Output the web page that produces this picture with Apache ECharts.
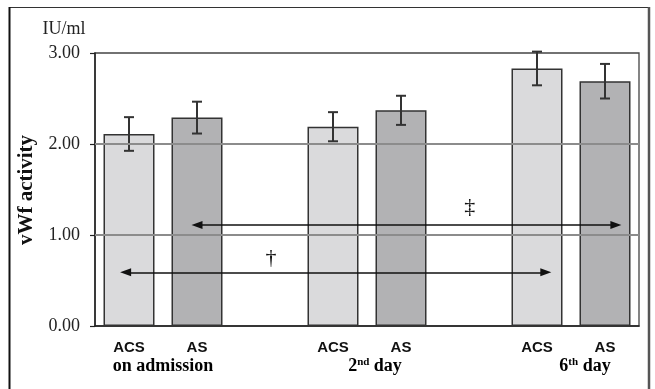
<!DOCTYPE html>
<html>
<head>
<meta charset="utf-8">
<script src="https://cdn.jsdelivr.net/npm/echarts@6/dist/echarts.min.js"></script>
<style>
html,body{margin:0;padding:0;background:#fff;}
#chart{width:655px;height:389px;}
</style>
</head>
<body>
<div id="chart"></div>
<script>
// ---- data ----
var categories = ['ACS', 'AS', '', 'ACS', 'AS', '', 'ACS', 'AS'];
var groups = ['ACS', 'AS', null, 'ACS', 'AS', null, 'ACS', 'AS'];
var values = [2.11, 2.29, null, 2.19, 2.37, null, 2.83, 2.69];
var errors = [0.185, 0.175, null, 0.16, 0.16, null, 0.185, 0.19];
var groupLabels = ['on admission', '2nd day', '6th day'];
var gridLines = [1, 2];
// arrows: [x from (category position), x to, y value]
var arrows = [
  [-0.05, 6.13, 0.59],
  [1.0, 7.16, 1.11]
];
var marks = [
  ['\u2020', 2.09, 0.75],
  ['\u2021', 5.01, 1.30]
];

var colorMap = { ACS: '#dadadc', AS: '#b2b2b4' };
var serif = '"Liberation Serif","Times New Roman",serif';
var sans = '"Liberation Sans",Arial,sans-serif';

var chart = echarts.init(document.getElementById('chart'));

var barData = values.map(function (v, i) {
  return { value: v == null ? '-' : v, itemStyle: { color: groups[i] ? colorMap[groups[i]] : '#fff' } };
});
var errData = [];
values.forEach(function (v, i) {
  if (v != null) errData.push([i, v - errors[i], v + errors[i]]);
});
var arrowHead = [8, 11];

var option = {
  animation: false,
  backgroundColor: '#fff',
  grid: {
    left: 95, right: 16, top: 53, bottom: 63,
    show: true, borderColor: '#444', borderWidth: 1.3, backgroundColor: 'transparent'
  },
  xAxis: [{
    type: 'category',
    data: categories,
    axisLine: { show: true, onZero: false, lineStyle: { color: '#222', width: 1.5 } },
    axisTick: { show: false },
    splitLine: { show: false },
    axisLabel: { interval: 0, margin: 14, fontFamily: sans, fontWeight: 'bold', fontSize: 15, color: '#111' }
  }, {
    type: 'value', min: -0.5, max: 7.5, show: false,
    axisLine: { onZero: false }, splitLine: { show: false }
  }],
  yAxis: {
    type: 'value', min: 0, max: 3, interval: 1,
    axisLine: { show: true, onZero: false, lineStyle: { color: '#222', width: 1.5 } },
    axisTick: { show: true, length: 5, lineStyle: { color: '#222', width: 1.2 } },
    axisLabel: { margin: 15, fontFamily: serif, fontSize: 18, color: '#222',
      formatter: function (v) { return v.toFixed(2); } },
    splitLine: { show: false }
  },
  series: [{
    type: 'bar',
    data: barData,
    barCategoryGap: '25%',
    itemStyle: { borderColor: '#333', borderWidth: 1.5 },
    markLine: {
      silent: true, symbol: 'none', animation: false,
      label: { show: false },
      lineStyle: { color: '#8c8c8c', width: 2, type: 'solid' },
      data: gridLines.map(function (g) { return { yAxis: g }; })
    },
    z: 2
  }, {
    type: 'custom',
    data: errData,
    encode: { x: 0, y: [1, 2] },
    clip: false,
    z: 3,
    renderItem: function (params, api) {
      var x = api.coord([api.value(0), api.value(1)])[0];
      var lo = api.coord([api.value(0), api.value(1)])[1];
      var hi = api.coord([api.value(0), api.value(2)])[1];
      var c = 5;
      var st = { stroke: '#333', lineWidth: 2, fill: null };
      return { type: 'group', children: [
        { type: 'polyline', shape: { points: [[x, lo], [x, hi]] }, style: st },
        { type: 'polyline', shape: { points: [[x - c, lo], [x + c, lo]] }, style: st },
        { type: 'polyline', shape: { points: [[x - c, hi], [x + c, hi]] }, style: st }
      ]};
    }
  }, {
    type: 'line',
    xAxisIndex: 1,
    data: [],
    z: 4,
    markLine: {
      silent: true, animation: false,
      symbol: ['triangle', 'triangle'], symbolSize: 10,
      label: { show: false },
      lineStyle: { color: '#111', width: 1.5, type: 'solid' },
      itemStyle: { color: '#111' },
      data: arrows.map(function (a) {
        return [
          { coord: [a[0], a[2]], symbolSize: arrowHead },
          { coord: [a[1], a[2]], symbolSize: arrowHead }
        ];
      })
    },
    markPoint: {
      silent: true, animation: false,
      symbol: 'circle', symbolSize: 1,
      itemStyle: { color: 'transparent' },
      label: { show: true, position: 'inside', fontFamily: serif, fontSize: 22, color: '#111',
        formatter: function (p) { return p.name; } },
      data: marks.map(function (m) { return { name: m[0], coord: [m[1], m[2]] }; })
    }
  }]
};
chart.setOption(option);

// group labels beneath category pairs, plus axis titles and outer frame
var pairIdx = [[0, 1, 0], [3, 4, 8], [6, 7, 14]];
var rich = {
  b: { fontFamily: serif, fontWeight: 'bold', fontSize: 18, color: '#111' },
  s: { fontFamily: serif, fontWeight: 'bold', fontSize: 11, color: '#111', verticalAlign: 'top', padding: [0, 0, 8, 0] }
};
var texts = [
  '{b|on admission}',
  '{b|2}{s|nd}{b| day}',
  '{b|6}{s|th}{b| day}'
];
var graphics = pairIdx.map(function (p, k) {
  var x0 = chart.convertToPixel({ xAxisIndex: 0 }, p[0]);
  var x1 = chart.convertToPixel({ xAxisIndex: 0 }, p[1]);
  return {
    type: 'text', x: (x0 + x1) / 2 + p[2], y: 366,
    style: { text: texts[k], rich: rich, align: 'center', verticalAlign: 'middle' }
  };
});
graphics.push({
  type: 'text', x: 64, y: 29,
  style: { text: 'IU/ml', fontFamily: serif, fontSize: 18, fill: '#222', align: 'center', verticalAlign: 'middle' }
});
graphics.push({
  type: 'text', x: 27, y: 190, rotation: Math.PI / 2,
  style: { text: 'vWf activity', fontFamily: serif, fontWeight: 'bold', fontSize: 21, fill: '#111', align: 'center', verticalAlign: 'middle' }
});
graphics.push({
  type: 'line', silent: true, shape: { x1: 9, y1: 7.5, x2: 649, y2: 7.5 },
  style: { stroke: '#333', lineWidth: 1.2 }
});
graphics.push({
  type: 'line', silent: true, shape: { x1: 9.5, y1: 7, x2: 9.5, y2: 389 },
  style: { stroke: '#111', lineWidth: 2 }
});
graphics.push({
  type: 'line', silent: true, shape: { x1: 649, y1: 7, x2: 649, y2: 389 },
  style: { stroke: '#555', lineWidth: 2.5 }
});
chart.setOption({ graphic: graphics });
</script>
</body>
</html>
